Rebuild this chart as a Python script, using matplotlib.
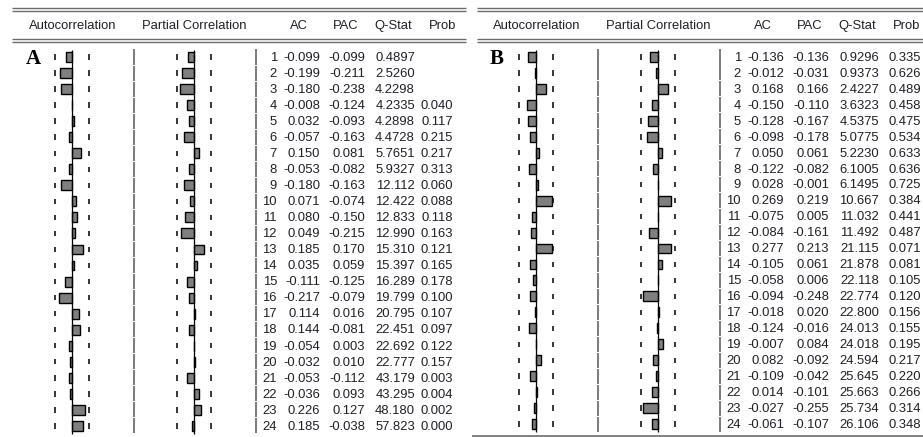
import matplotlib
matplotlib.use("Agg")
import matplotlib.pyplot as plt

# ---------------- data ----------------
lags = list(range(1, 25))

a_ac = [-0.099, -0.199, -0.180, -0.008, 0.032, -0.057, 0.150, -0.053, -0.180, 0.071, 0.080, 0.049,
        0.185, 0.035, -0.111, -0.217, 0.114, 0.144, -0.054, -0.032, -0.053, -0.036, 0.226, 0.185]
a_pac = [-0.099, -0.211, -0.238, -0.124, -0.093, -0.163, 0.081, -0.082, -0.163, -0.074, -0.150, -0.215,
         0.170, 0.059, -0.125, -0.079, 0.016, -0.081, 0.003, 0.010, -0.112, 0.093, 0.127, -0.038]
a_q = [0.4897, 2.5260, 4.2298, 4.2335, 4.2898, 4.4728, 5.7651, 5.9327, 12.112, 12.422, 12.833, 12.990,
       15.310, 15.397, 16.289, 19.799, 20.795, 22.451, 22.692, 22.777, 43.179, 43.295, 48.180, 57.823]
a_prob = [None, None, None, 0.040, 0.117, 0.215, 0.217, 0.313, 0.060, 0.088, 0.118, 0.163,
          0.121, 0.165, 0.178, 0.100, 0.107, 0.097, 0.122, 0.157, 0.003, 0.004, 0.002, 0.000]

b_ac = [-0.136, -0.012, 0.168, -0.150, -0.128, -0.098, 0.050, -0.122, 0.028, 0.269, -0.075, -0.084,
        0.277, -0.105, -0.058, -0.094, -0.018, -0.124, -0.007, 0.082, -0.109, 0.014, -0.027, -0.061]
b_pac = [-0.136, -0.031, 0.166, -0.110, -0.167, -0.178, 0.061, -0.082, -0.001, 0.219, 0.005, -0.161,
         0.213, 0.061, 0.006, -0.248, 0.020, -0.016, 0.084, -0.092, -0.042, -0.101, -0.255, -0.107]
b_q = [0.9296, 0.9373, 2.4227, 3.6323, 4.5375, 5.0775, 5.2230, 6.1005, 6.1495, 10.667, 11.032, 11.492,
       21.115, 21.878, 22.118, 22.774, 22.800, 24.013, 24.018, 24.594, 25.645, 25.663, 25.734, 26.106]
b_prob = [0.335, 0.626, 0.489, 0.458, 0.475, 0.534, 0.633, 0.636, 0.725, 0.384, 0.441, 0.487,
          0.071, 0.081, 0.105, 0.120, 0.156, 0.155, 0.195, 0.217, 0.220, 0.266, 0.314, 0.348]

bound = 0.288          # dashed significance band
headers = ["AC", "PAC", "Q-Stat", "Prob"]

# ---------------- layout / style ----------------
W, H = 923, 437
FONT = "Liberation Sans"
TXT = "#1f1f28"
GRID = "#7a7a7a"
FS = 9.4

fig = plt.figure(figsize=(W / 100, H / 100), dpi=100)
overlay = fig.add_axes([0, 0, 1, 1])
overlay.set_xlim(0, W)
overlay.set_ylim(H, 0)
overlay.axis("off")


def qfmt(v):
    return f"{v:.4f}" if v < 10 else f"{v:.3f}"


def draw_panel(dx, label, ac, pac, q, prob, y1, dy, line_x0, line_x1, bottom_line, prob_x):
    n = len(ac)
    ylim = (1 + (H - y1) / dy, 1 - y1 / dy)

    tab = fig.add_axes([0, 0, 1, 1])
    tab.set_xlim(0, W)
    tab.set_ylim(*ylim)
    tab.axis("off")
    tab.patch.set_alpha(0)

    lo = [l - 0.47 for l in lags]
    hi = [l + 0.47 for l in lags]
    tab.vlines([dx + 134] * n, lo, hi, color=GRID, lw=1.4)
    tab.vlines([dx + 256] * n, lo, hi, color=GRID, lw=1.4)

    for i, l in enumerate(lags):
        kw = dict(ha="right", va="center", family=FONT, size=FS, color=TXT)
        tab.text(dx + 277, l + 0.05, str(l), **kw)
        tab.text(dx + 320, l + 0.05, f"{ac[i]:.3f}", **kw)
        tab.text(dx + 365, l + 0.05, f"{pac[i]:.3f}", **kw)
        tab.text(dx + 415, l + 0.05, qfmt(q[i]), **kw)
        if prob[i] is not None:
            tab.text(prob_x, l + 0.05, f"{prob[i]:.3f}", **kw)

    s = 59.0  # px per unit
    half = 45
    for zero_px, vals in ((dx + 72, ac), (dx + 194, pac)):
        ax = fig.add_axes([(zero_px - half) / W, 0, 2 * half / W, 1])
        ax.set_xlim(-half / s, half / s)
        ax.set_ylim(*ylim)
        ax.axis("off")
        ax.patch.set_alpha(0)
        ax.barh(lags, vals, height=0.62, color="#7f7f7f", edgecolor="black", lw=1.0, zorder=2)
        ax.vlines(0, 0.55, n + 0.5, color="black", lw=0.9, zorder=3)
        dlo = [l - 0.17 for l in lags]
        dhi = [l + 0.17 for l in lags]
        ax.vlines([-bound] * n, dlo, dhi, color="black", lw=1.1)
        ax.vlines([bound] * n, dlo, dhi, color="black", lw=1.1)

    overlay.hlines([8, 11, 39, 42], line_x0, line_x1, color="#6c6c6c", lw=1.0)
    overlay.text(dx + 72.5, 26, "Autocorrelation", ha="center", va="center", family=FONT, size=FS, color=TXT)
    overlay.text(dx + 194.5, 26, "Partial Correlation", ha="center", va="center", family=FONT, size=FS, color=TXT)
    for htxt, xr in zip(headers, (308, 358, 412, 456)):
        x = min(dx + xr, W - 3)
        overlay.text(x, 26, htxt, ha="right", va="center", family=FONT, size=FS, color=TXT)
    overlay.text(dx + 33, 59, label, ha="center", va="center", family="Liberation Serif",
                 weight="bold", size=15, color="black")
    if bottom_line:
        overlay.hlines(436, line_x0 - 5, line_x1, color="#6c6c6c", lw=1.2)


draw_panel(0, "A", a_ac, a_pac, a_q, a_prob, 57, 16.04, 12, 466, False, 453)
draw_panel(464, "B", b_ac, b_pac, b_q, b_prob, 57, 15.96, 477, 923, True, 921)

fig.savefig("out.png", dpi=100)
